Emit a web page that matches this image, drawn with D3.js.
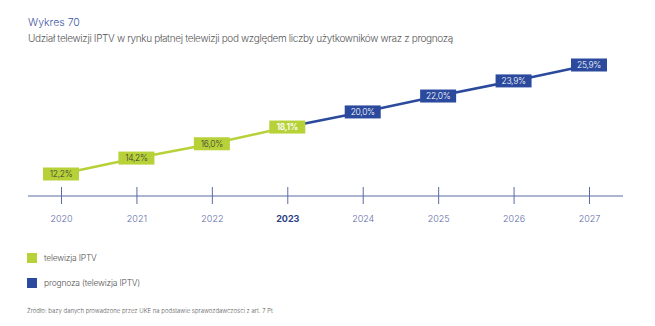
<!DOCTYPE html>
<html>
<head>
<meta charset="utf-8">
<script src="https://cdn.jsdelivr.net/npm/d3@7"></script>
<style>
  body { margin: 0; background: #fff; }
  svg text { font-family: "Inter", "Liberation Sans", sans-serif; }
</style>
</head>
<body>
<div id="chart"></div>
<script>
// Data
const years = ["2020", "2021", "2022", "2023", "2024", "2025", "2026", "2027"];
const iptv = [12.2, 14.2, 16.0, 18.1];
const forecast = [18.1, 20.0, 22.0, 23.9, 25.9];
const fmt = v => d3.format(".1f")(v).replace(".", ",") + "%";

const green = "#b7d138", blue = "#2b4a9d", axisCol = "#5c6aa6";

const svg = d3.select("#chart")
  .append("svg")
    .attr("width", 655)
    .attr("height", 326);

// Titles
svg.append("text")
    .attr("x", 28).attr("y", 26)
    .attr("font-size", 10.5)
    .attr("font-weight", 300)
    .attr("fill", "#3d55a4")
    .text("Wykres 70");
svg.append("text")
    .attr("x", 28).attr("y", 42)
    .attr("font-size", 10)
    .attr("font-weight", 300)
    .attr("fill", "#555")
    .attr("letter-spacing", -0.35)
    .text("Udział telewizji IPTV w rynku płatnej telewizji pod względem liczby użytkowników wraz z prognozą");

// Scales
const x = d3.scalePoint()
  .domain(years)
  .range([61, 589]);
const y = d3.scaleLinear()
  .domain([10, 26])
  .range([191.5, 64.2]);

// Axis
svg.append("line")
    .attr("x1", 28).attr("x2", 623)
    .attr("y1", 196).attr("y2", 196)
    .attr("stroke", axisCol).attr("stroke-width", 1);
const xAxis = svg.append("g")
    .attr("transform", "translate(0,196)")
    .call(d3.axisBottom(x).tickSize(8).tickPadding(12));
xAxis.select(".domain").remove();
xAxis.selectAll(".tick line")
    .attr("y1", -9).attr("y2", 8)
    .attr("stroke", axisCol);
xAxis.selectAll(".tick text")
    .attr("font-family", "Inter, sans-serif")
    .attr("font-size", 9)
    .attr("fill", d => d === "2023" ? "#2b3f86" : axisCol)
    .attr("font-weight", d => d === "2023" ? 700 : 300);

// Lines
const line = d3.line()
  .x(d => x(d.year))
  .y(d => y(d.value));
const iptvPts = iptv.map((v, i) => ({year: years[i], value: v}));
const fcPts = forecast.map((v, i) => ({year: years[i + 3], value: v}));

svg.append("path")
    .datum(fcPts)
    .attr("d", line)
    .attr("fill", "none")
    .attr("stroke", blue)
    .attr("stroke-width", 2.5);
svg.append("path")
    .datum(iptvPts)
    .attr("d", line)
    .attr("fill", "none")
    .attr("stroke", green)
    .attr("stroke-width", 2.5);

// Labels
function labels(pts, fill, textCol) {
  const g = svg.append("g")
    .selectAll("g")
    .data(pts)
    .join("g")
      .attr("transform", d => `translate(${x(d.year)},${y(d.value)})`);
  g.append("rect")
      .attr("x", -18).attr("y", -6.5)
      .attr("width", 36).attr("height", 13)
      .attr("fill", fill);
  g.append("text")
      .attr("text-anchor", "middle")
      .attr("dy", "0.35em")
      .attr("font-size", 8.5)
      .attr("font-weight", d => d.year === "2023" ? 600 : 300)
      .attr("letter-spacing", -0.3)
      .attr("fill", typeof textCol === "function" ? textCol : () => textCol)
      .text(d => fmt(d.value));
}
labels(fcPts.slice(1), blue, "#fff");
labels(iptvPts, green, d => d.year === "2023" ? "#fff" : "#3a3a3a");

// Legend
const legend = [["telewizja IPTV", green], ["prognoza (telewizja IPTV)", blue]];
const lg = svg.append("g")
  .selectAll("g")
  .data(legend)
  .join("g")
    .attr("transform", (d, i) => `translate(27,${253 + i * 25})`);
lg.append("rect")
    .attr("width", 10).attr("height", 10)
    .attr("fill", d => d[1]);
lg.append("text")
    .attr("x", 17).attr("y", 5)
    .attr("dy", "0.35em")
    .attr("font-size", 8.5)
    .attr("font-weight", 300)
    .attr("fill", "#555")
    .attr("letter-spacing", -0.2)
    .text(d => d[0]);

// Source
svg.append("text")
    .attr("x", 27).attr("y", 313)
    .attr("font-size", 6)
    .attr("font-weight", 300)
    .attr("fill", "#555")
    .text("Źródło: bazy danych prowadzone przez UKE na podstawie sprawozdawczości z art. 7 Pt");
</script>
</body>
</html>
